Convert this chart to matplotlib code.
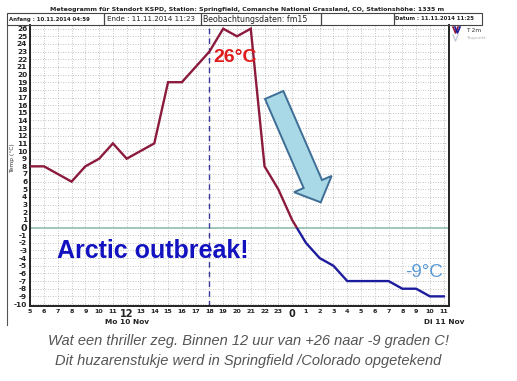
import matplotlib
matplotlib.use("Agg")
import matplotlib.pyplot as plt
import numpy as np
from matplotlib.patches import Rectangle, Polygon
from matplotlib.lines import Line2D

# ---------------- data ----------------
hours = list(range(5, 36))          # 5 = Mo 10 Nov 05:00 ... 35 = Di 11 Nov 11:00
temps = [8, 8, 7, 6, 8, 9, 11, 9, 10, 11, 19, 19, 21, 23, 26, 25, 26,
         8, 5, 1, -2, -4, -5, -7, -7, -7, -7, -8, -8, -9, -9]
tick_hours = list(range(5, 36))
tick_labels = [str(h % 24) for h in tick_hours]
y_ticks = list(range(-10, 27))
x_start, x_end = 4 + 59 / 60, 35 + 23 / 60   # 04:59 .. 11:23
now_hour = 18

title = "Meteogramm für Standort KSPD, Station: Springfield, Comanche National Grassland, CO, Stationshöhe: 1335 m"
caption1 = "Wat een thriller zeg. Binnen 12 uur van +26 naar -9 graden C!"
caption2 = "Dit huzarenstukje werd in Springfield /Colorado opgetekend"

W, H, DPI = 517, 381, 100
fig = plt.figure(figsize=(W / DPI, H / DPI), dpi=DPI)
fig.patch.set_facecolor("white")

def fx(px):
    return px / W

def fy(py):
    return 1 - py / H

ax = fig.add_axes([fx(30), fy(306), fx(449) - fx(30), fy(25) - fy(306)])
ax.set_xlim(x_start, x_end)
ax.set_ylim(-10.26, 26.48)

# grid
for h in tick_hours:
    ax.axvline(h, color="#b0b0b0", lw=0.6, ls=(0, (1, 2)), zorder=0)
for t in y_ticks:
    ax.axhline(t, color="#b0b0b0", lw=0.6, ls=(0, (1, 2)), zorder=0)

ax.axhline(0, color="#9cc3b8", lw=1.3, zorder=1)
ax.axvline(now_hour, color="#3a3a9a", lw=1.0, ls=(0, (4, 3)), zorder=1)

# temperature line: red above 0, blue below
red_line, = ax.plot(hours, temps, color="#8b1a3c", lw=1.7, zorder=3, solid_joinstyle="miter")
blue_line, = ax.plot(hours, temps, color="#1c1c9c", lw=1.7, zorder=3, solid_joinstyle="miter")
r_clip = Rectangle((x_start, 0), x_end - x_start, 40, transform=ax.transData)
b_clip = Rectangle((x_start, -20), x_end - x_start, 20, transform=ax.transData)
red_line.set_clip_path(r_clip)
blue_line.set_clip_path(b_clip)

for s in ax.spines.values():
    s.set_color("#222222")
    s.set_linewidth(1.4)
ax.spines["top"].set_visible(False)

ax.set_xticks(tick_hours)
ax.set_xticklabels(tick_labels)
ax.set_yticks(y_ticks)
ax.set_yticklabels([str(t) for t in y_ticks])
ax.tick_params(axis="both", length=0)
ax.tick_params(axis="y", pad=2, labelsize=5.3, labelcolor="#222222")
ax.tick_params(axis="x", pad=2.5, labelsize=4.6, labelcolor="#222222")
for lab in ax.get_yticklabels():
    lab.set_fontweight("bold")
    if lab.get_text() == "0":
        lab.set_fontsize(6.8)
for lab in ax.get_xticklabels():
    lab.set_fontweight("bold")
    if lab.get_text() in ("12", "0"):
        lab.set_fontsize(7)

fig.text(fx(12.5), fy(158), "Temp (°C)", fontsize=4.3, rotation=90, ha="center", va="center",
         color="#333333")

# day labels
ax.text(12, -12.35, "Mo 10 Nov", ha="center", va="center", fontsize=5.3, fontweight="bold",
        color="#222222", clip_on=False)
ax.text(35.0, -12.35, "Di 11 Nov", ha="center", va="center", fontsize=5.3, fontweight="bold",
        color="#222222", clip_on=False)

# annotations
ax.text(18.26, 21.68, "26°C", color="#e01c1c", fontsize=14, fontweight="bold",
        family="Liberation Sans", ha="left", va="baseline")
ax.text(6.94, -3.95, "Arctic outbreak!", color="#1212c0", fontsize=18, fontweight="bold",
        family="Liberation Sans", ha="left", va="baseline")
ax.text(32.2, -6.51, "-9°C", color="#5b9bd5", fontsize=13.5,
        family="Liberation Sans", ha="left", va="baseline")

# block arrow
tail = np.array([22.70, 17.33])
tip = np.array([26.08, 3.29])
fig.canvas.draw()
p0 = ax.transData.transform(tail)
p1 = ax.transData.transform(tip)
d = p1 - p0
L = np.hypot(*d)
u = d / L
pp = np.array([-u[1], u[0]])
sc = DPI / 100
sw, hw, hl = 10 * sc, 20.5 * sc, 20 * sc
base = p1 - u * hl
pts = [p0 + pp * sw, base + pp * sw, base + pp * hw, p1,
       base - pp * hw, base - pp * sw, p0 - pp * sw]
arrow = Polygon(pts, closed=True, facecolor="#a9d8e6", edgecolor="#3e6e96",
                lw=1.4, transform=None, zorder=5)
fig.add_artist(arrow)

# header
fig.text(fx(247), fy(10), title, ha="center", va="center", fontsize=4.5,
         fontweight="bold", color="#222222")
box_edges = [7, 104, 201, 321, 394, 482]
for a, b in zip(box_edges[:-1], box_edges[1:]):
    fig.add_artist(Rectangle((fx(a), fy(25)), fx(b) - fx(a), fy(13) - fy(25),
                             fill=False, edgecolor="#444444", lw=0.8, transform=fig.transFigure))
fig.text(fx(9), fy(19), "Anfang : 10.11.2014 04:59", fontsize=3.9, fontweight="bold",
         va="center", ha="left", color="#222222")
fig.text(fx(107), fy(19), "Ende : 11.11.2014 11:23", fontsize=5.1, va="center", ha="left", color="#222222")
fig.text(fx(203), fy(19), "Beobachtungsdaten: fm15", fontsize=5.7, va="center", ha="left", color="#222222")
fig.text(fx(395), fy(19), "Datum : 11.11.2014 11:25", fontsize=3.9, fontweight="bold",
         va="center", ha="left", color="#222222")

# left frame line
fig.add_artist(Line2D([fx(7), fx(7)], [fy(25), fy(325)], color="#555555", lw=0.8))

# legend
fig.add_artist(Line2D([fx(453), fx(455.5), fx(458)], [fy(27), fy(33), fy(27)], color="#8b1a3c", lw=1.2))
fig.add_artist(Line2D([fx(455), fx(457.5), fx(460)], [fy(27), fy(33), fy(27)], color="#1c1c9c", lw=1.2))
fig.add_artist(Line2D([fx(453), fx(455.5), fx(458)], [fy(35), fy(41), fy(35)], color="#b8c8d8", lw=0.9))
fig.text(fx(466), fy(30), "T 2m", fontsize=4.3, va="center", ha="left", color="#333333")
fig.text(fx(466), fy(38), "Taupunkt", fontsize=3.2, va="center", ha="left", color="#b0b0b0")

# caption
fig.text(fx(248), fy(341), caption1, ha="center", va="center", fontsize=10.5, style="italic",
         family="Liberation Sans", color="#555555")
fig.text(fx(248), fy(361), caption2, ha="center", va="center", fontsize=10.5, style="italic",
         family="Liberation Sans", color="#555555")

fig.savefig("out.png", dpi=DPI, facecolor="white")
